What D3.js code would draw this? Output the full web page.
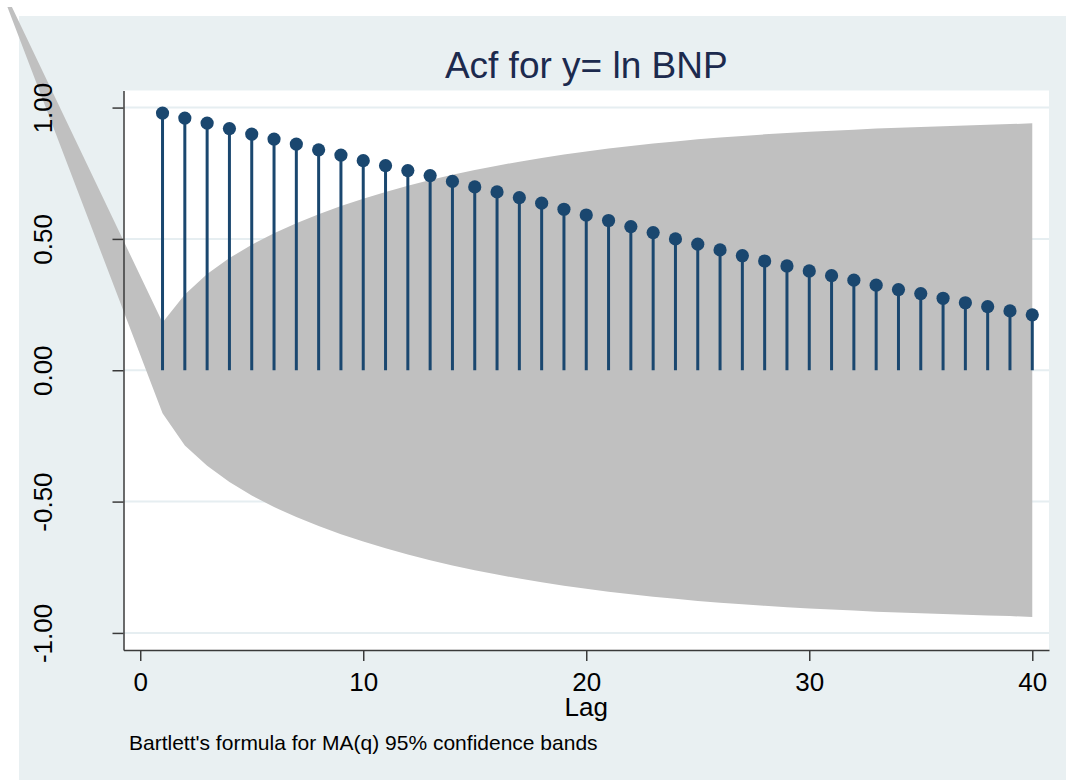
<!DOCTYPE html>
<html>
<head>
<meta charset="utf-8">
<script src="https://cdn.jsdelivr.net/npm/d3@7"></script>
<style>
  html, body { margin: 0; padding: 0; background: #ffffff; }
  svg { display: block; font-family: "Liberation Sans", Arial, Helvetica, sans-serif; }
</style>
</head>
<body>
<svg id="chart" width="1066" height="780"></svg>
<script>
// ---- data ----
const lags = d3.range(1, 41);
const acfValues = [
  0.979, 0.960, 0.941, 0.920, 0.899, 0.880, 0.861, 0.839, 0.819, 0.798,
  0.779, 0.760, 0.741, 0.719, 0.698, 0.679, 0.657, 0.636, 0.613, 0.591,
  0.570, 0.547, 0.524, 0.500, 0.480, 0.458, 0.436, 0.416, 0.397, 0.378,
  0.360, 0.343, 0.324, 0.307, 0.292, 0.274, 0.257, 0.242, 0.226, 0.211
];
const bandUpper = [
  0.182, 0.288, 0.366, 0.427, 0.478, 0.522, 0.560, 0.594, 0.625, 0.653,
  0.679, 0.702, 0.724, 0.744, 0.762, 0.779, 0.794, 0.808, 0.821, 0.833,
  0.844, 0.854, 0.863, 0.871, 0.879, 0.886, 0.892, 0.898, 0.903, 0.908,
  0.912, 0.916, 0.920, 0.923, 0.926, 0.929, 0.932, 0.935, 0.937, 0.940
];
const bandLower = [
  -0.164, -0.286, -0.364, -0.425, -0.477, -0.521, -0.559, -0.593, -0.624, -0.652,
  -0.678, -0.701, -0.723, -0.743, -0.761, -0.778, -0.793, -0.807, -0.820, -0.832,
  -0.843, -0.853, -0.862, -0.870, -0.878, -0.885, -0.891, -0.897, -0.902, -0.907,
  -0.911, -0.915, -0.919, -0.922, -0.925, -0.928, -0.931, -0.934, -0.936, -0.939
];
// stray tail of the band polygon (extends outside the plot region in the original)
const bandTailLag = [-5.955, -5.753];
const bandTailValue = [1.383, 1.383];

const xTickValues = [0, 10, 20, 30, 40];
const xTickLabels = ["0", "10", "20", "30", "40"];
const yTickValues = [-1, -0.5, 0, 0.5, 1];
const yTickLabels = ["-1.00", "-0.50", "0.00", "0.50", "1.00"];

const titleText = "Acf for y= ln BNP";
const xTitle = "Lag";
const noteText = "Bartlett's formula for MA(q) 95% confidence bands";

// ---- layout ----
const svg = d3.select("#chart");
const plot = { left: 123.5, right: 1049, top: 90.5, bottom: 650 };
const navy = "#1a476f";

const x = d3.scaleLinear().domain([-0.75, 40.75]).range([plot.left, plot.right]);
const y = d3.scaleLinear().domain([-1.065, 1.065]).range([plot.bottom, plot.top]);

// graph region background
svg.append("rect")
  .attr("x", 19).attr("y", 16).attr("width", 1066 - 19).attr("height", 780 - 16)
  .attr("fill", "#e9f0f2");

// plot region
svg.append("rect")
  .attr("x", plot.left).attr("y", plot.top)
  .attr("width", plot.right - plot.left).attr("height", plot.bottom - plot.top)
  .attr("fill", "#ffffff");

// gridlines
svg.append("g").selectAll("line").data(yTickValues).join("line")
  .attr("x1", plot.left).attr("x2", plot.right)
  .attr("y1", d => y(d)).attr("y2", d => y(d))
  .attr("stroke", "#e6eef1").attr("stroke-width", 2);

// confidence band polygon
const bandPts = [];
lags.forEach((l, i) => bandPts.push([l, bandUpper[i]]));
for (let i = lags.length - 1; i >= 0; i--) bandPts.push([lags[i], bandLower[i]]);
bandTailLag.forEach((l, i) => bandPts.push([l, bandTailValue[i]]));
const line = d3.line().x(d => x(d[0])).y(d => y(d[1]));
svg.append("path")
  .attr("d", line(bandPts) + "Z")
  .attr("fill", "#c0c0c0");

// stems
svg.append("g").selectAll("line").data(lags).join("line")
  .attr("x1", d => x(d)).attr("x2", d => x(d))
  .attr("y1", y(0)).attr("y2", (d, i) => y(acfValues[i]))
  .attr("stroke", navy).attr("stroke-width", 3);

// dots
svg.append("g").selectAll("circle").data(lags).join("circle")
  .attr("cx", d => x(d)).attr("cy", (d, i) => y(acfValues[i]))
  .attr("r", 6.6).attr("fill", navy);

// y axis
const yAxis = svg.append("g")
  .attr("transform", `translate(${plot.left},0)`)
  .call(d3.axisLeft(y).tickValues(yTickValues)
    .tickFormat((d, i) => yTickLabels[i]).tickSize(11).tickSizeOuter(0));
yAxis.select(".domain").attr("stroke", "#3a3a3a").attr("stroke-width", 1.5);
yAxis.selectAll(".tick line").attr("stroke", "#3a3a3a").attr("stroke-width", 1.5);
yAxis.selectAll(".tick text")
  .attr("font-size", 26).attr("fill", "#000")
  .attr("font-family", "Liberation Sans, Arial, sans-serif")
  .attr("text-anchor", "middle")
  .attr("x", null).attr("dy", null)
  .attr("transform", "translate(-71.5,0) rotate(-90)")
  .attr("y", 0);

// x axis
const xAxis = svg.append("g")
  .attr("transform", `translate(0,${plot.bottom})`)
  .call(d3.axisBottom(x).tickValues(xTickValues)
    .tickFormat((d, i) => xTickLabels[i]).tickSize(11).tickSizeOuter(0));
xAxis.select(".domain").attr("stroke", "#3a3a3a").attr("stroke-width", 1.5);
xAxis.selectAll(".tick line").attr("stroke", "#3a3a3a").attr("stroke-width", 1.5);
xAxis.selectAll(".tick text")
  .attr("font-size", 26).attr("fill", "#000")
  .attr("font-family", "Liberation Sans, Arial, sans-serif")
  .attr("dy", null).attr("y", 41);

// titles
svg.append("text")
  .attr("x", (plot.left + plot.right) / 2).attr("y", 78)
  .attr("text-anchor", "middle").attr("font-size", 37).attr("fill", "#1c2a4e")
  .text(titleText);

svg.append("text")
  .attr("x", (plot.left + plot.right) / 2).attr("y", 716)
  .attr("text-anchor", "middle").attr("font-size", 26).attr("fill", "#000")
  .text(xTitle);

svg.append("text")
  .attr("x", 129).attr("y", 750)
  .attr("font-size", 21).attr("fill", "#000")
  .text(noteText);
</script>
</body>
</html>
